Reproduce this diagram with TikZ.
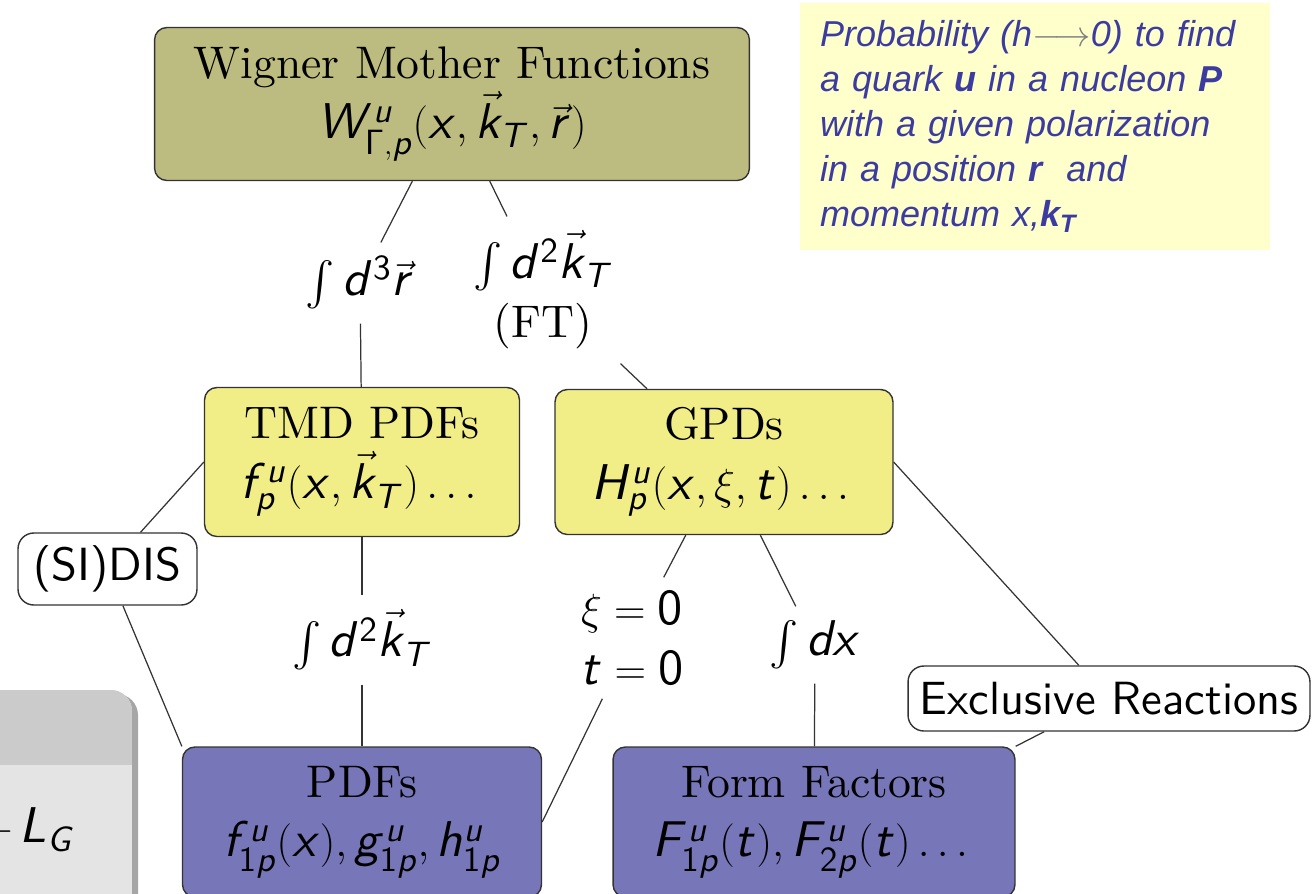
\documentclass[tikz,border=0pt]{standalone}
\usepackage{amsmath}
\usepackage[no-math]{fontspec}
\usepackage{tikz}
\usetikzlibrary{positioning}
\newfontfamily\notefont{Liberation Sans}
\newfontfamily\tenrm{lmroman10-regular.otf}
\newfontfamily\tensf{lmsans10-regular.otf}
% sans math letters and digits, as in a beamer slide
\DeclareFontFamily{OT1}{bmss}{}
\DeclareFontShape{OT1}{bmss}{m}{sl}{<-> s*[1.1] cmssi10}{}
\DeclareFontShape{OT1}{bmss}{m}{n}{<-> s*[1.1] cmss10}{}
\DeclareSymbolFont{sfletters}{OT1}{bmss}{m}{sl}
\DeclareSymbolFont{sfupright}{OT1}{bmss}{m}{n}
\DeclareMathSymbol{\Gamma}{\mathalpha}{sfupright}{0}
\newcount\mlet
\mlet=`A
\loop \mathcode\mlet=\numexpr"7000+\symsfletters*256+\mlet\relax
  \advance\mlet by 1 \ifnum\mlet<`[ \repeat
\mlet=`a
\loop \mathcode\mlet=\numexpr"7000+\symsfletters*256+\mlet\relax
  \advance\mlet by 1 \ifnum\mlet<`\{ \repeat
\mlet=`0
\loop \mathcode\mlet=\numexpr"7000+\symsfupright*256+\mlet\relax
  \advance\mlet by 1 \ifnum\mlet<`: \repeat
\definecolor{wigfill}{HTML}{BDBC80}
\definecolor{tmdfill}{HTML}{F1EE88}
\definecolor{pdffill}{HTML}{7676B8}
\definecolor{notebg}{HTML}{FFFFCC}
\definecolor{notetxt}{HTML}{3C3CA0}
\definecolor{edge}{HTML}{333333}
\definecolor{greytop}{HTML}{CBCBCB}
\definecolor{greylow}{HTML}{E4E4E4}
\newcommand{\bigfont}{\fontsize{26}{34}\selectfont\tenrm}
\tikzset{
  box/.style={draw=edge, line width=0.8pt, rounded corners=7pt, align=center, font=\bigfont, inner sep=0pt},
  tag/.style={draw=edge, line width=0.8pt, fill=white, rounded corners=9pt, font=\fontsize{26.5}{34}\selectfont\tensf, inner sep=0pt},
  lab/.style={align=center, font=\bigfont, inner sep=8pt},
  link/.style={edge, line width=0.7pt}
}
\begin{document}
\begin{tikzpicture}[x=0.02cm,y=-0.02cm]
\useasboundingbox (0,0) rectangle (1315,893);
% corner of the neighbouring block
\fill[gray!70, rounded corners=12pt] (-20,694) rectangle (138,950);
\begin{scope}
  \clip[rounded corners=12pt] (-20,690) rectangle (132,950);
  \fill[greylow] (-20,690) rectangle (132,950);
  \fill[greytop] (-20,690) rectangle (132,765);
\end{scope}
\node[font=\bigfont, anchor=base east, inner sep=0pt] (lg) at (76,842) {$+\,L_G$};
% note
\node[fill=notebg, minimum width=9.4cm, minimum height=4.94cm, text width=8.6cm, align=left,
  font=\notefont\itshape\fontsize{20.5}{25.6}\selectfont, text=notetxt] (note) at (1035,126.5)
  {Probability (h\textcolor{gray}{$\longrightarrow$}0) to find\\
   a quark \textbf{u} in a nucleon \textbf{P}\\
   with a given polarization\\
   in a position \textbf{r}\ \ and\\
   momentum x,\textbf{k\textsubscript{T}}};
% boxes
\node[box, fill=wigfill, minimum width=11.9cm, minimum height=3.06cm] (wig) at (452,104)
  {Wigner Mother Functions\\ $W^u_{\Gamma,p}(x,\vec{k}_T,\vec{r})$};
\node[box, fill=tmdfill, minimum width=6.3cm, minimum height=2.98cm] (tmd) at (362,462)
  {TMD PDFs\\ $f^u_p(x,\vec{k}_T)\dots$};
\node[box, fill=tmdfill, minimum width=6.76cm, minimum height=2.9cm] (gpd) at (724,462)
  {GPDs\\ $H^u_p(x,\xi,t)\dots$};
\node[box, fill=pdffill, minimum width=7.18cm, minimum height=3cm] (pdf) at (362,822)
  {PDFs\\ $f^u_{1p}(x),g^u_{1p},h^u_{1p}$};
\node[box, fill=pdffill, minimum width=8.04cm, minimum height=3cm] (ff) at (814,822)
  {Form Factors\\ $F^u_{1p}(t),F^u_{2p}(t)\dots$};
\node[tag, minimum width=3.58cm, minimum height=1.44cm] (sidis) at (107.5,569) {(SI)DIS};
\node[tag, minimum width=8.04cm, minimum height=1.3cm] (excl) at (1109,698.5) {Exclusive Reactions};
% integrations
\node[lab] (lr) at (360,283) {$\int d^3\vec{r}$};
\node[lab] (lk) at (543,290) {$\int d^2\vec{k}_T$\\(FT)};
\node[lab] (lk2) at (362,640) {$\int d^2\vec{k}_T$};
\node[lab] (lxi) at (632,638) {$\xi=0$\\$t=0$};
\node[lab] (ldx) at (815,645) {$\int dx$};
% links
\draw[link] (wig) -- (lr);
\draw[link] (lr) -- (tmd);
\draw[link] (wig) -- (lk);
\draw[link] (lk) -- (gpd);
\draw[link] (tmd) -- (lk2);
\draw[link] (lk2) -- (pdf);
\draw[link] (gpd) -- (lxi);
\draw[link] (lxi) -- (pdf.east);
\draw[link] (gpd) -- (ldx);
\draw[link] (ldx) -- (ff);
\draw[link] (tmd.west) -- (sidis);
\draw[link] (sidis) -- (pdf.north west);
\draw[link] (gpd.east) -- (excl);
\draw[link] (excl) -- (ff.north east);
\end{tikzpicture}
\end{document}
